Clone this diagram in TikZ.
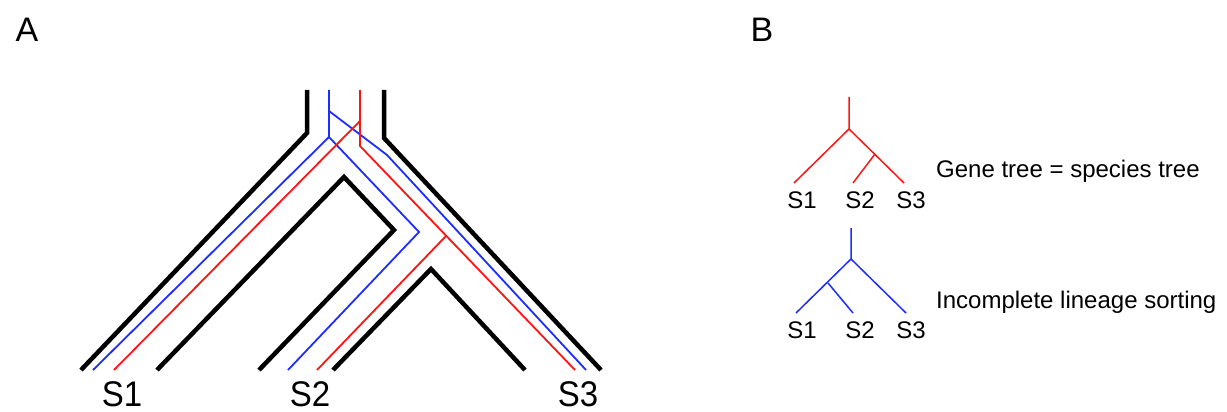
\documentclass[tikz,border=0pt]{standalone}
\usepackage{fontspec}
\setmainfont{Liberation Sans}
\definecolor{lineblue}{RGB}{30,45,255}
\definecolor{linered}{RGB}{255,20,20}
\begin{document}
\begin{tikzpicture}[x=1pt,y=-1pt,
  species/.style={line width=4.5pt,black},
  bluegene/.style={line width=1.8pt,lineblue},
  redgene/.style={line width=1.8pt,linered},
  panel/.style={font=\fontsize{34}{38}\selectfont,inner sep=0pt},
  tiplabel/.style={font=\fontsize{33}{38}\selectfont,inner sep=0pt},
  smalllabel/.style={font=\fontsize{24}{28}\selectfont,inner sep=0pt},
  caption/.style={font=\fontsize{24}{28}\selectfont,inner sep=0pt,anchor=base west}]
\useasboundingbox (0,0) rectangle (1227,412);

% ---------------- panel A: species tree with gene lineages ----------------
\node[panel] (labA) at (27,30) {A};

% species tree outline
\draw[species] (307,90) -- (307,133) -- (81,370);
\draw[species] (384,90) -- (384,138) -- (601,370);
\draw[species] (157,370) -- (344,177) -- (394,230) -- (259,370);
\draw[species] (333,370) -- (431,269) -- (525,370);

% blue gene lineages
\coordinate (bsplit) at (329,137);
\coordinate (bupper) at (329,111);
\draw[bluegene] (329,90) -- (bsplit) -- (93,370);
\draw[bluegene] (bsplit) -- (419,232) -- (288,370);
\draw[bluegene] (bupper) -- (387,155) -- (586,370);

% red gene lineages
\coordinate (rupper) at (360,121);
\coordinate (rsplit) at (446,236);
\draw[redgene] (360,90) -- (360,146) -- (575,370);
\draw[redgene] (rupper) -- (114,370);
\draw[redgene] (rsplit) -- (317,370);

\node[tiplabel] (tS1) at (122,394) {\scalebox{1}[1.08]{S1}};
\node[tiplabel] (tS2) at (310,394) {\scalebox{1}[1.08]{S2}};
\node[tiplabel] (tS3) at (578,394) {\scalebox{1}[1.08]{S3}};

% ---------------- panel B: gene trees ----------------
\node[panel] (labB) at (762,30) {B};

% gene tree matching the species tree
\coordinate (rroot) at (849,97);
\coordinate (rtop) at (849,129);
\coordinate (rin) at (875,154);
\coordinate (r1) at (794,183);
\coordinate (r2) at (853,183);
\coordinate (r3) at (904,183);
\draw[redgene,line width=1.5pt] (rroot) -- (rtop) -- (r1);
\draw[redgene,line width=1.5pt] (rtop) -- (r3);
\draw[redgene,line width=1.5pt] (rin) -- (r2);
\node[smalllabel] (gS1) at (802,200) {S1};
\node[smalllabel] (gS2) at (860,200) {S2};
\node[smalllabel] (gS3) at (911,200) {S3};
\node[caption] (cap1) at (936,177) {Gene tree = species tree};

% gene tree under incomplete lineage sorting
\coordinate (broot) at (851,228);
\coordinate (btop) at (851,259);
\coordinate (bin) at (828,283);
\coordinate (b1) at (796,313);
\coordinate (b2) at (853,313);
\coordinate (b3) at (906,313);
\draw[bluegene,line width=1.5pt] (broot) -- (btop) -- (b1);
\draw[bluegene,line width=1.5pt] (btop) -- (b3);
\draw[bluegene,line width=1.5pt] (bin) -- (b2);
\node[smalllabel] (hS1) at (802,330) {S1};
\node[smalllabel] (hS2) at (860,330) {S2};
\node[smalllabel] (hS3) at (911,330) {S3};
\node[caption] (cap2) at (936,308) {Incomplete lineage sorting};
\end{tikzpicture}
\end{document}
